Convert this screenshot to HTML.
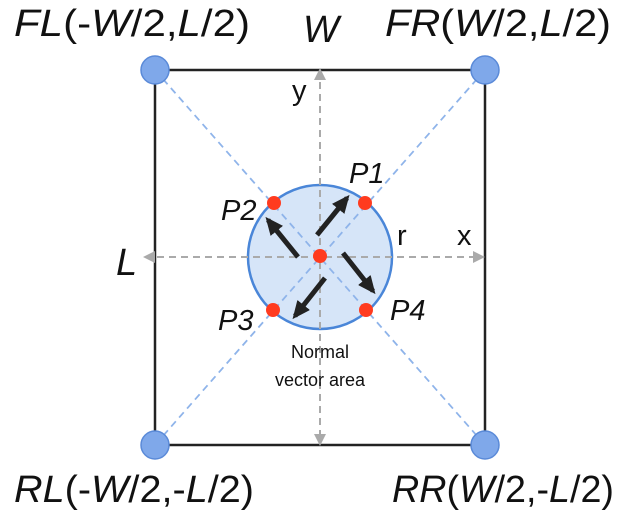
<!DOCTYPE html>
<html><head><style>body{margin:0;background:#fff}svg{display:block}text{font-family:"Liberation Sans",sans-serif;fill:#111}</style></head><body>
<svg width="632" height="512" viewBox="0 0 632 512" xmlns="http://www.w3.org/2000/svg">
<defs>
<marker id="ga" markerWidth="12" markerHeight="12" refX="10" refY="6" orient="auto-start-reverse" markerUnits="userSpaceOnUse"><path d="M0,0 L12,6 L0,12 z" fill="#aaa"/></marker>
<marker id="ba" markerWidth="18" markerHeight="16" refX="14" refY="8" orient="auto" markerUnits="userSpaceOnUse"><path d="M0,0 L18,8 L0,16 z" fill="#222"/></marker>
</defs>
<rect x="155" y="70" width="330" height="375" fill="none" stroke="#222" stroke-width="2.5"/>
<circle cx="320" cy="257" r="72" fill="#cfe0f7" fill-opacity="0.85" stroke="#4a86d8" stroke-width="2.5"/>
<g stroke="#8fb4ea" stroke-width="1.8" stroke-dasharray="7,5">
<line x1="155" y1="70" x2="485" y2="445"/><line x1="485" y1="70" x2="155" y2="445"/>
</g>
<g stroke="#aaa" stroke-width="2" stroke-dasharray="7,5">
<line x1="320" y1="70" x2="320" y2="444" marker-start="url(#ga)" marker-end="url(#ga)"/>
<line x1="145" y1="257" x2="483" y2="257" marker-start="url(#ga)" marker-end="url(#ga)"/>
</g>
<g stroke="#222" stroke-width="5">
<line x1="317" y1="235" x2="347" y2="198" marker-end="url(#ba)"/>
<line x1="298" y1="257" x2="268" y2="220" marker-end="url(#ba)"/>
<line x1="343" y1="253" x2="373" y2="291" marker-end="url(#ba)"/>
<line x1="325" y1="278" x2="295" y2="316" marker-end="url(#ba)"/>
</g>
<g fill="#ff3b1f">
<circle cx="320" cy="256" r="7"/><circle cx="274" cy="203" r="7"/><circle cx="365" cy="203" r="7"/><circle cx="273" cy="310" r="7"/><circle cx="366" cy="310" r="7"/>
</g>
<g fill="#7fa8ea" stroke="#5a8ad8" stroke-width="1.5">
<circle cx="155" cy="70" r="14"/><circle cx="485" cy="70" r="14"/><circle cx="155" cy="445" r="14"/><circle cx="485" cy="445" r="14"/>
</g>
<g font-size="38">
<text x="14" y="36" textLength="236" lengthAdjust="spacingAndGlyphs"><tspan font-style="italic">FL</tspan>(-<tspan font-style="italic">W</tspan>/2,<tspan font-style="italic">L</tspan>/2)</text>
<text x="385" y="36" textLength="226" lengthAdjust="spacingAndGlyphs"><tspan font-style="italic">FR</tspan>(<tspan font-style="italic">W</tspan>/2,<tspan font-style="italic">L</tspan>/2)</text>
<text x="14" y="502" textLength="240" lengthAdjust="spacingAndGlyphs"><tspan font-style="italic">RL</tspan>(-<tspan font-style="italic">W</tspan>/2,-<tspan font-style="italic">L</tspan>/2)</text>
<text x="392" y="502" textLength="222" lengthAdjust="spacingAndGlyphs"><tspan font-style="italic">RR</tspan>(<tspan font-style="italic">W</tspan>/2,-<tspan font-style="italic">L</tspan>/2)</text>
<text x="303" y="42" font-style="italic">W</text>
<text x="116" y="275" font-style="italic">L</text>
</g>
<g font-size="29">
<text x="292" y="100">y</text>
<text x="457" y="245">x</text>
<text x="397" y="245">r</text>
<text x="349" y="183" font-style="italic">P1</text>
<text x="221" y="220" font-style="italic">P2</text>
<text x="218" y="330" font-style="italic">P3</text>
<text x="390" y="320" font-style="italic">P4</text>
</g>
<g font-size="18" text-anchor="middle">
<text x="320" y="358">Normal</text>
<text x="320" y="386">vector area</text>
</g>
</svg>
</body></html>
